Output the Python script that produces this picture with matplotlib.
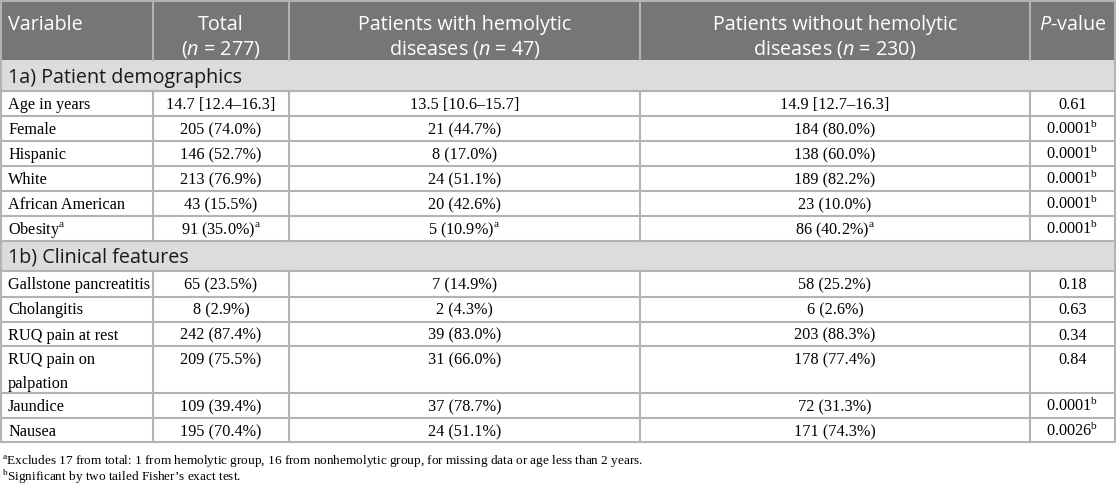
import matplotlib.pyplot as plt
from matplotlib.patches import Rectangle

plt.rcParams['mathtext.fontset'] = 'custom'
plt.rcParams['mathtext.rm'] = 'Liberation Serif'
plt.rcParams['mathtext.it'] = 'Open Sans:italic'

# Table content
headers = ["Variable", "Total\n($n$ = 277)", "Patients with hemolytic\ndiseases ($n$ = 47)",
           "Patients without hemolytic\ndiseases ($n$ = 230)", "$P$-value"]

sec_a = "1a) Patient demographics"
variables_a = ["Age in years", "Female", "Hispanic", "White", "African American", "Obesity$^{\\mathrm{a}}$"]
total_a = ["14.7 [12.4–16.3]", "205 (74.0%)", "146 (52.7%)", "213 (76.9%)", "43 (15.5%)",
           "91 (35.0%)$^{\\mathrm{a}}$"]
hemo_a = ["13.5 [10.6–15.7]", "21 (44.7%)", "8 (17.0%)", "24 (51.1%)", "20 (42.6%)",
          "5 (10.9%)$^{\\mathrm{a}}$"]
nonhemo_a = ["14.9 [12.7–16.3]", "184 (80.0%)", "138 (60.0%)", "189 (82.2%)", "23 (10.0%)",
             "86 (40.2%)$^{\\mathrm{a}}$"]
pval_a = ["0.61", "0.0001$^{\\mathrm{b}}$", "0.0001$^{\\mathrm{b}}$", "0.0001$^{\\mathrm{b}}$",
          "0.0001$^{\\mathrm{b}}$", "0.0001$^{\\mathrm{b}}$"]

sec_b = "1b) Clinical features"
variables_b = ["Gallstone pancreatitis", "Cholangitis", "RUQ pain at rest", "RUQ pain on\npalpation",
               "Jaundice", "Nausea"]
total_b = ["65 (23.5%)", "8 (2.9%)", "242 (87.4%)", "209 (75.5%)", "109 (39.4%)", "195 (70.4%)"]
hemo_b = ["7 (14.9%)", "2 (4.3%)", "39 (83.0%)", "31 (66.0%)", "37 (78.7%)", "24 (51.1%)"]
nonhemo_b = ["58 (25.2%)", "6 (2.6%)", "203 (88.3%)", "178 (77.4%)", "72 (31.3%)", "171 (74.3%)"]
pval_b = ["0.18", "0.63", "0.34", "0.84", "0.0001$^{\\mathrm{b}}$", "0.0026$^{\\mathrm{b}}$"]

footnotes = ["$^{\\mathrm{a}}$Excludes 17 from total: 1 from hemolytic group, 16 from nonhemolytic group, "
             "for missing data or age less than 2 years.",
             "$^{\\mathrm{b}}$Significant by two tailed Fisher’s exact test."]

# Layout in pixels
W, H = 1116, 492
col_x = [1, 153, 289, 640, 1030, 1115]
header_y = (1, 60)
rows_a_y = [91, 116, 141, 166, 191, 216, 241]
rows_b_y = [271, 296.5, 321.5, 346, 393, 418, 442]
line_col = '#b3b3b3'
lw = 1.5

fig = plt.figure(figsize=(W / 100, H / 100), dpi=100)
ax = fig.add_axes([0, 0, 1, 1])
ax.set_xlim(0, W)
ax.set_ylim(H, 0)
ax.axis('off')

sans = 'Open Sans'
serif = 'Liberation Serif'
fs_head = 14.2
fs_body = 11.7

# header
ax.add_patch(Rectangle((col_x[0], header_y[0]), col_x[-1] - col_x[0], header_y[1] - header_y[0],
                       facecolor='#767676', edgecolor='none'))
for i, h in enumerate(headers):
    x0, x1 = col_x[i], col_x[i + 1]
    for j, line in enumerate(h.split('\n')):
        yy = 30 + j * 24
        if i == 0:
            ax.text(x0 + 7, yy, line, ha='left', va='baseline', color='white', family=sans, fontsize=fs_head)
        else:
            ax.text((x0 + x1) / 2, yy, line, ha='center', va='baseline', color='white', family=sans,
                    fontsize=fs_head)


def draw_section(title, y_top, ys, cols):
    ax.add_patch(Rectangle((col_x[0], y_top), col_x[-1] - col_x[0], ys[0] - y_top,
                           facecolor='#dcdcdc', edgecolor='none'))
    ax.text(col_x[0] + 7, ys[0] - 8, title, ha='left', va='baseline', color='#1a1a1a',
            family=sans, fontsize=fs_head)
    ax.plot([col_x[0], col_x[-1]], [ys[0], ys[0]], color=line_col, lw=lw)
    for r in range(len(ys) - 1):
        top, bot = ys[r], ys[r + 1]
        ax.plot([col_x[0], col_x[-1]], [bot, bot], color=line_col, lw=lw)
        for c in range(5):
            ax.plot([col_x[c], col_x[c]], [top, bot], color=line_col, lw=lw)
        ax.plot([col_x[-1], col_x[-1]], [top, bot], color=line_col, lw=lw)
        for c, vals in enumerate(cols):
            lines = vals[r].split('\n')
            for j, line in enumerate(lines):
                yy = top + 18 + j * 23.5
                if c == 0:
                    ax.text(col_x[0] + 7, yy, line, ha='left', va='baseline', family=serif,
                            fontsize=fs_body, color='black')
                else:
                    ax.text((col_x[c] + col_x[c + 1]) / 2, yy, line, ha='center', va='baseline',
                            family=serif, fontsize=fs_body, color='black')


draw_section(sec_a, header_y[1], rows_a_y, [variables_a, total_a, hemo_a, nonhemo_a, pval_a])
draw_section(sec_b, rows_a_y[-1], rows_b_y, [variables_b, total_b, hemo_b, nonhemo_b, pval_b])

# outer borders of header / section rows
ax.plot([col_x[0], col_x[-1]], [header_y[0], header_y[0]], color=line_col, lw=lw)
for c in col_x:
    ax.plot([c, c], [header_y[0], header_y[1]], color=line_col, lw=lw)
for y0, y1 in [(header_y[1], rows_a_y[0]), (rows_a_y[-1], rows_b_y[0])]:
    ax.plot([col_x[0], col_x[0]], [y0, y1], color=line_col, lw=lw)
    ax.plot([col_x[-1], col_x[-1]], [y0, y1], color=line_col, lw=lw)

# footnotes
for k, fn in enumerate(footnotes):
    ax.text(2, 465 + k * 16, fn, ha='left', va='baseline', family=serif, fontsize=9.5, color='black')

fig.savefig('out.png', dpi=100)
